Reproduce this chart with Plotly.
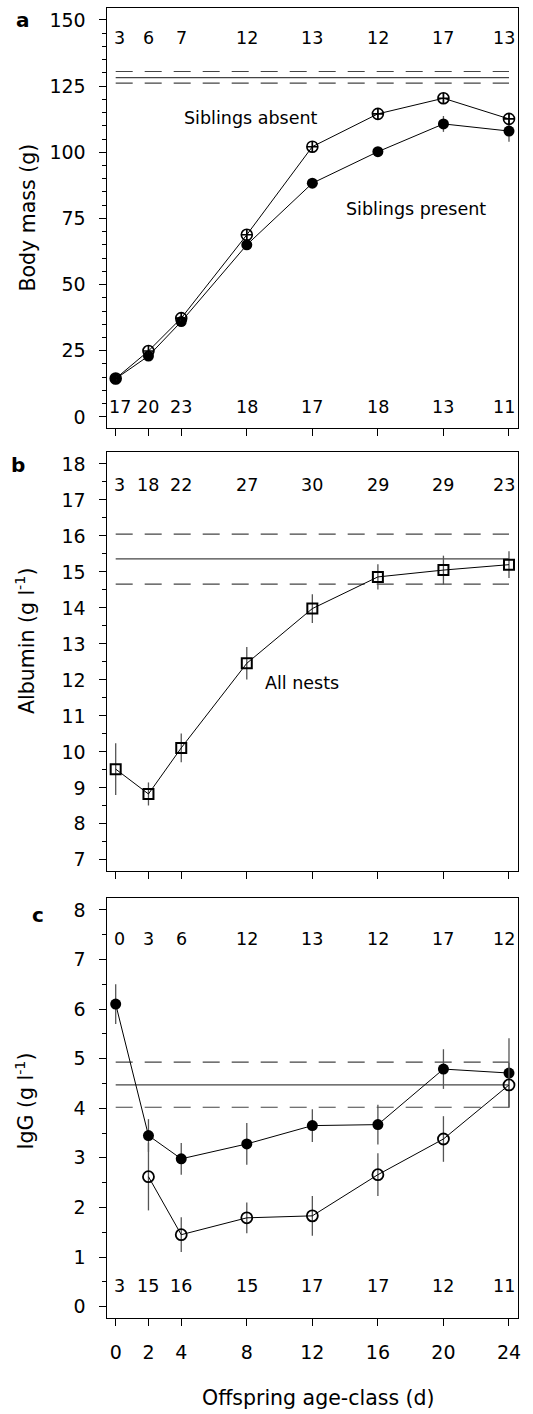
import plotly.graph_objects as go

# ---------------- data ----------------
ages = [0, 2, 4, 8, 12, 16, 20, 24]
age_ticks = [0, 2, 4, 8, 12, 16, 20, 24]

# Panel a: body mass (g)
mass_absent = [14.5, 24.9, 37.3, 68.8, 102.1, 114.5, 120.4, 112.6]
mass_absent_se = [0.8, 1.0, 1.2, 1.5, 1.5, 1.5, 1.8, 2.0]
mass_present = [14.4, 23.0, 36.0, 65.0, 88.3, 100.2, 110.7, 108.0]
mass_present_se = [0.8, 1.0, 1.2, 1.5, 1.5, 1.5, 3.0, 4.0]
mass_n_absent = [3, 6, 7, 12, 13, 12, 17, 13]
mass_n_present = [17, 20, 23, 18, 17, 18, 13, 11]
mass_ref = [128.2, 126.1, 130.5]  # mean, lower, upper

# Panel b: albumin (g/l)
albumin = [9.52, 8.83, 10.11, 12.46, 13.98, 14.86, 15.05, 15.2]
albumin_se = [0.72, 0.32, 0.40, 0.45, 0.40, 0.35, 0.40, 0.37]
albumin_n = [3, 18, 22, 27, 30, 29, 29, 23]
albumin_ref = [15.36, 14.66, 16.05]

# Panel c: IgG (g/l)
igg_present = [6.10, 3.45, 2.98, 3.28, 3.65, 3.67, 4.79, 4.71]
igg_present_se = [0.40, 0.33, 0.32, 0.42, 0.33, 0.40, 0.40, 0.70]
igg_absent = [None, 2.62, 1.45, 1.79, 1.83, 2.66, 3.38, 4.47]
igg_absent_se = [None, 0.68, 0.35, 0.31, 0.40, 0.43, 0.46, 0.45]
igg_n_absent = [0, 3, 6, 12, 13, 12, 17, 12]
igg_n_present = [3, 15, 16, 15, 17, 17, 12, 11]
igg_ref = [4.47, 4.02, 4.93]

# ---------------- layout helpers ----------------
W, H = 533, 1414
FONT = "DejaVu Sans"


def fx(px):
    return px / W


def fy(py):
    return 1 - py / H


x_left, x_right = 107, 518
panels = {
    "a": (8, 428, [-4.2, 154.5], 25, 5),
    "b": (452, 871, [6.69, 18.33], 1, 0.5),
    "c": (898, 1318, [-0.23, 8.24], 1, 0.5),
}

fig = go.Figure()

err_col = "#555555"
ref_col = "#444444"


def add_refs(ref, xa, ya):
    xs = [ages[0], ages[-1]]
    fig.add_trace(go.Scatter(x=xs, y=[ref[0]] * 2, mode="lines", xaxis=xa, yaxis=ya,
                             line=dict(color=ref_col, width=1.2), hoverinfo="skip"))
    for v in ref[1:]:
        fig.add_trace(go.Scatter(x=xs, y=[v] * 2, mode="lines", xaxis=xa, yaxis=ya,
                                 line=dict(color=ref_col, width=1.2, dash="17px,12px"),
                                 hoverinfo="skip"))


def add_series(y, se, xa, ya, symbol, size, lw):
    fig.add_trace(go.Scatter(
        x=ages, y=y, mode="lines+markers", xaxis=xa, yaxis=ya,
        line=dict(color="black", width=1),
        error_y=dict(type="data", array=se, visible=True, color=err_col,
                     thickness=1.3, width=0),
        marker=dict(symbol=symbol, size=size, color="black",
                    line=dict(color="black", width=lw)),
        connectgaps=False,
    ))


# Panel a
add_refs(mass_ref, "x", "y")
add_series(mass_present, mass_present_se, "x", "y", "circle", 11, 0)
add_series(mass_absent, mass_absent_se, "x", "y", "circle-cross-open", 11, 1.6)

# Panel b
add_refs(albumin_ref, "x2", "y2")
add_series(albumin, albumin_se, "x2", "y2", "square-open", 10, 2)

# Panel c
add_refs(igg_ref, "x3", "y3")
add_series(igg_present, igg_present_se, "x3", "y3", "circle", 11, 0)
add_series(igg_absent, igg_absent_se, "x3", "y3", "circle-open", 11, 1.8)

annotations = []


def add_counts(counts, yval, xref, yref):
    n = len(counts)
    for i, (a, c) in enumerate(zip(ages, counts)):
        shift = 4 if i == 0 else (-5 if i == n - 1 else 0)
        annotations.append(dict(x=a, y=yval, xref=xref, yref=yref, text=str(c),
                                showarrow=False, xshift=shift,
                                xanchor="center", yanchor="middle",
                                font=dict(family=FONT, size=17.5, color="black")))


add_counts(mass_n_absent, 143.2, "x", "y")
add_counts(mass_n_present, 3.9, "x", "y")
add_counts(albumin_n, 17.4, "x2", "y2")
add_counts(igg_n_absent, 7.41, "x3", "y3")
add_counts(igg_n_present, 0.42, "x3", "y3")

txt_font = dict(family=FONT, size=17.5, color="black")
for (tx, ty, xr, yr, t) in [(8.2, 113, "x", "y", "Siblings absent"),
                            (18.35, 78.5, "x", "y", "Siblings present"),
                            (11.34, 11.9, "x2", "y2", "All nests")]:
    annotations.append(dict(x=tx, y=ty, xref=xr, yref=yr, text=t, showarrow=False,
                            xanchor="center", yanchor="middle", font=txt_font))

title_font = dict(family=FONT, size=20.5, color="black")
for (px, py, t, ang) in [(27, 217.5, "Body mass (g)", -90),
                         (25, 641, "Albumin (g l<sup>-1</sup>)", -90),
                         (25, 1101.5, "IgG (g l<sup>-1</sup>)", -90),
                         (318, 1398, "Offspring age-class (d)", 0)]:
    annotations.append(dict(x=fx(px), y=fy(py), xref="paper", yref="paper", text=t,
                            textangle=ang, showarrow=False, xanchor="center",
                            yanchor="middle", font=title_font))

for lab, (lx, ly) in {"a": (23, 20), "b": (18, 465), "c": (38, 915)}.items():
    annotations.append(dict(x=fx(lx), y=fy(ly), xref="paper", yref="paper",
                            text="<b>%s</b>" % lab, showarrow=False,
                            xanchor="center", yanchor="middle",
                            font=dict(family=FONT, size=20, color="black")))

layout = dict(
    width=W, height=H,
    margin=dict(l=0, r=0, t=0, b=0),
    paper_bgcolor="white", plot_bgcolor="white",
    showlegend=False,
    annotations=annotations,
    font=dict(family=FONT, color="black"),
)

for i, key in enumerate(["a", "b", "c"]):
    top, bot, yr, dt, mdt = panels[key]
    suffix = "" if i == 0 else str(i + 1)
    layout["xaxis" + suffix] = dict(
        domain=[fx(x_left), fx(x_right)], range=[-0.53, 24.55],
        anchor="y" + suffix, tickvals=age_ticks, ticks="outside", ticklen=7,
        tickcolor="black", tickwidth=1,
        showticklabels=(key == "c"), ticklabelstandoff=10,
        tickfont=dict(family=FONT, size=19, color="black"),
        showline=True, linecolor="black", linewidth=1, mirror=True,
        showgrid=False, zeroline=False, automargin=False,
    )
    layout["yaxis" + suffix] = dict(
        domain=[fy(bot), fy(top)], range=yr, anchor="x" + suffix,
        tick0=0, dtick=dt, ticks="outside", ticklen=7, tickcolor="black", tickwidth=1,
        minor=dict(dtick=mdt, tick0=0, ticks="outside", ticklen=4, tickcolor="black",
                   tickwidth=1, showgrid=False),
        tickfont=dict(family=FONT, size=19, color="black"), ticksuffix="\u2002",
        showline=True, linecolor="black", linewidth=1, mirror=True,
        showgrid=False, zeroline=False, automargin=False,
    )

fig.update_layout(**layout)
fig.write_html("out.html")
